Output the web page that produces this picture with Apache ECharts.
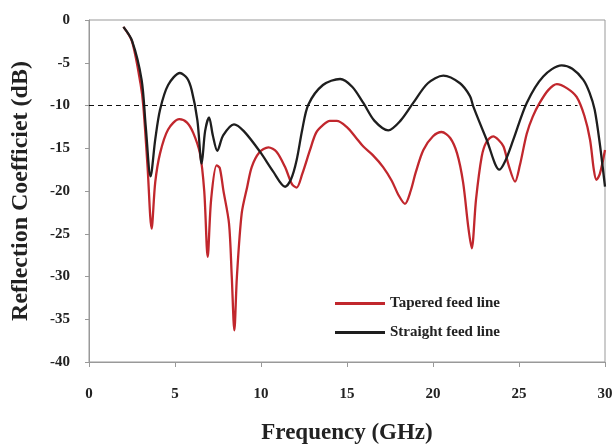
<!DOCTYPE html>
<html lang="en">
<head>
    <meta charset="UTF-8">
    <title>Reflection Coefficient</title>
    <script src="https://cdn.jsdelivr.net/npm/echarts@6/dist/echarts.min.js"></script>
    <style>
        html, body { margin: 0; padding: 0; background: #fff; }
    </style>
</head>
<body>
<div id="main" style="height:444px;width:614px"></div>

<script type="text/javascript">
    // frequency (GHz), reflection coefficient (dB)
    var tapered = [
        [2.0,-0.8],[2.5,-2.5],[3.0,-7.5],[3.16,-10.1],[3.4,-17],[3.64,-24.4],[3.85,-19],[4.13,-15.6],
        [4.6,-12.8],[5.25,-11.6],[5.7,-12.0],[6.06,-13.2],[6.45,-15.6],[6.7,-20],[6.9,-27.7],[7.1,-21],
        [7.42,-17.0],[7.6,-17.3],[7.81,-19.9],[8.14,-23.8],[8.3,-30],[8.45,-36.3],[8.6,-30],[8.88,-22.6],
        [9.2,-19.5],[9.46,-17.2],[9.9,-15.5],[10.43,-14.9],[10.9,-15.4],[11.4,-17.2],[11.8,-19.2],[12.07,-19.6],
        [12.4,-18],[12.85,-15.2],[13.2,-13.2],[13.6,-12.3],[14.0,-11.8],[14.4,-11.8],[14.98,-12.5],[15.5,-13.7],
        [15.95,-14.8],[16.5,-15.8],[17.1,-17.2],[17.6,-18.8],[18.0,-20.5],[18.37,-21.5],[18.7,-20.0],[19.0,-17.8],
        [19.44,-15.2],[20.0,-13.6],[20.5,-13.1],[21.0,-13.8],[21.4,-15.6],[21.75,-19],[22.05,-24.2],[22.25,-26.7],
        [22.5,-21],[22.83,-16.0],[23.1,-14.3],[23.5,-13.6],[23.8,-14.0],[24.1,-14.8],[24.4,-17],[24.77,-18.9],
        [25.05,-17],[25.45,-13.3],[25.8,-11.3],[26.2,-9.7],[26.7,-8.2],[27.2,-7.5],[27.8,-8.0],[28.35,-9.0],
        [28.8,-11.2],[29.13,-14.0],[29.35,-17.5],[29.5,-18.7],[29.7,-18],[30,-15.2]
    ];
    var straight = [
        [2.0,-0.8],[2.5,-2.4],[3.06,-7.0],[3.3,-12.5],[3.58,-18.3],[3.85,-14],[4.13,-10.5],[4.6,-7.6],
        [5.29,-6.2],[5.7,-6.8],[5.97,-8.2],[6.3,-11.7],[6.55,-16.8],[6.75,-13],[6.98,-11.4],[7.2,-13.5],
        [7.46,-15.3],[7.8,-13.5],[8.43,-12.2],[9.0,-13.0],[9.94,-15.4],[10.7,-17.7],[11.4,-19.5],[11.75,-18.6],
        [12.07,-16.4],[12.4,-12.8],[12.75,-9.9],[13.6,-7.6],[14.6,-6.9],[15.3,-7.8],[15.95,-9.7],[16.6,-11.8],
        [17.4,-12.9],[18.1,-11.8],[18.85,-9.7],[19.7,-7.4],[20.6,-6.5],[21.57,-7.4],[22.15,-8.9],[22.34,-10.1],
        [23.12,-14.0],[23.86,-17.5],[24.2,-16.5],[24.67,-14.0],[25.45,-9.7],[26.41,-6.6],[27.48,-5.3],[28.1,-5.7],
        [28.74,-7.0],[29.1,-8.5],[29.4,-10.5],[29.7,-14.5],[30,-19.5]
    ];
    var threshold = [[0,-10],[28.4,-10]];
    var seriesNames = ['Tapered feed line', 'Straight feed line'];

    var font = 'Liberation Serif';
    var myChart = echarts.init(document.getElementById('main'));
    myChart.setOption({
        backgroundColor: '#fff',
        animation: false,
        grid: {
            left: 89, right: 9, top: 20, bottom: 82,
            outerBoundsMode: 'none', containLabel: false,
            show: true, borderColor: '#999', borderWidth: 1
        },
        legend: {
            data: seriesNames,
            orient: 'vertical',
            left: 330, top: 291,
            itemWidth: 50, itemHeight: 3, itemGap: 14,
            icon: 'rect',
            textStyle: { fontFamily: font, fontWeight: 'bold', fontSize: 15, color: '#222' }
        },
        xAxis: {
            type: 'value', min: 0, max: 30, interval: 5,
            name: 'Frequency (GHz)', nameLocation: 'middle', nameGap: 60,
            nameTextStyle: { fontFamily: font, fontWeight: 'bold', fontSize: 23, color: '#222' },
            axisLine: { onZero: false, lineStyle: { color: '#999' } },
            axisTick: { length: 5, lineStyle: { color: '#999' } },
            axisLabel: { margin: 25, fontFamily: font, fontWeight: 'bold', fontSize: 15, color: '#222' },
            splitLine: { show: false }
        },
        yAxis: {
            type: 'value', min: -40, max: 0, interval: 5,
            name: 'Reflection Coefficiet (dB)', nameLocation: 'middle', nameGap: 56,
            nameTextStyle: { fontFamily: font, fontWeight: 'bold', fontSize: 24, color: '#222' },
            axisLine: { show: true, lineStyle: { color: '#999' } },
            axisTick: { show: true, length: 4, lineStyle: { color: '#999' } },
            axisLabel: { margin: 19, fontFamily: font, fontWeight: 'bold', fontSize: 15, color: '#222' },
            splitLine: { show: false }
        },
        series: [
            {
                name: seriesNames[0], type: 'line', data: tapered,
                showSymbol: false, smooth: 0.3,
                itemStyle: { color: '#c1272d' },
                lineStyle: { color: '#c1272d', width: 2.3 }
            },
            {
                name: seriesNames[1], type: 'line', data: straight,
                showSymbol: false, smooth: 0.3,
                itemStyle: { color: '#1e1e1e' },
                lineStyle: { color: '#1e1e1e', width: 2.3 }
            },
            {
                name: 'threshold', type: 'line', data: threshold,
                showSymbol: false, silent: true,
                lineStyle: { color: '#111', width: 1, type: [5, 4] }
            }
        ]
    });
</script>
</body>
</html>
